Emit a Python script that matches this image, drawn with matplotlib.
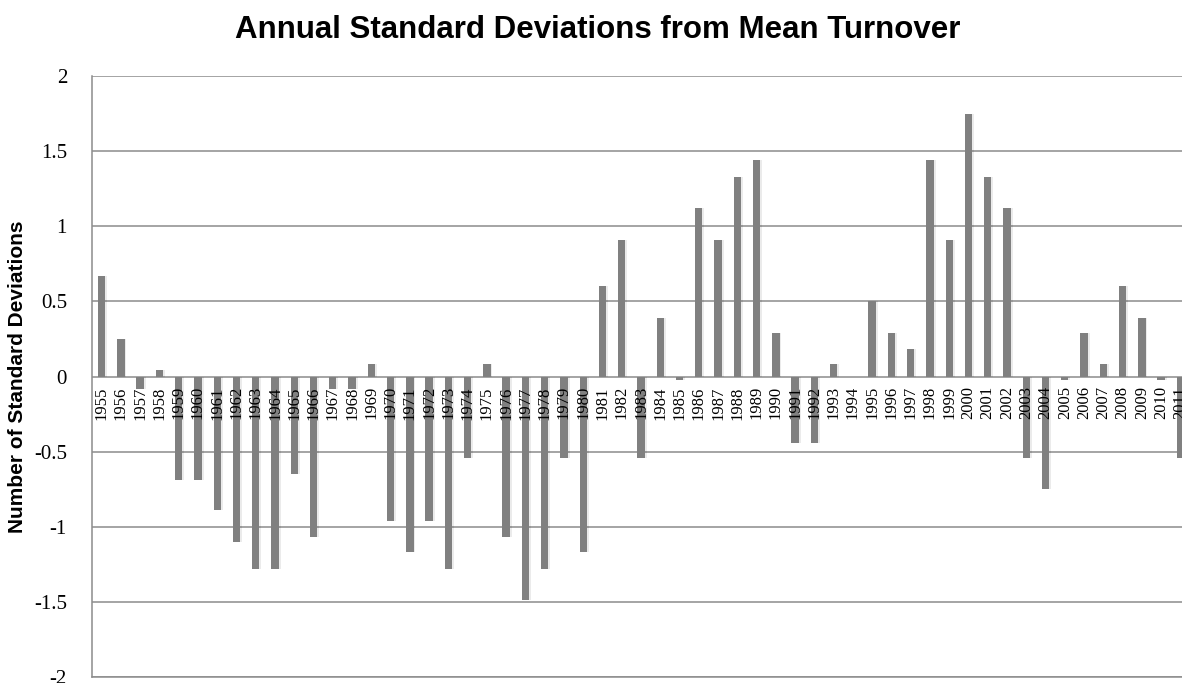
import matplotlib
matplotlib.use("Agg")
import matplotlib.pyplot as plt
import numpy as np

years = [str(y) for y in range(1955, 2012)]
values = [0.67, 0.25, -0.08, 0.04, -0.69, -0.69, -0.89, -1.10, -1.28, -1.28,
          -0.65, -1.07, -0.08, -0.08, 0.08, -0.96, -1.17, -0.96, -1.28, -0.54,
          0.08, -1.07, -1.49, -1.28, -0.54, -1.17, 0.60, 0.91, -0.54, 0.39,
          -0.02, 1.12, 0.91, 1.33, 1.44, 0.29, -0.44, -0.44, 0.08, 0.0,
          0.50, 0.29, 0.18, 1.44, 0.91, 1.75, 1.33, 1.12, -0.54, -0.75,
          -0.02, 0.29, 0.08, 0.60, 0.39, -0.02, -0.54]
yticks = [-2, -1.5, -1, -0.5, 0, 0.5, 1, 1.5, 2]
ytick_labels = ["-2", "-1.5", "-1", "-0.5", "0", "0.5", "1", "1.5", "2"]

fig = plt.figure(figsize=(11.82, 6.83), dpi=100)
ax = fig.add_axes([92 / 1182, 1 - 677 / 683, 1098 / 1182, 601 / 683])

x = np.arange(len(years))
# faint drop shadow behind the bars
ax.bar(x + 0.08, values, width=0.42, color="#000000", alpha=0.08, zorder=2)
ax.bar(x, values, width=0.38, color="#808080", zorder=3)

ax.set_xlim(-0.5, len(years) - 0.5)
ax.set_ylim(-2, 2)
ax.set_yticks(yticks)
ax.set_yticklabels(ytick_labels, family="Liberation Serif", fontsize=15)
ax.tick_params(axis="y", length=0, pad=18)
ax.set_xticks([])
ax.yaxis.grid(True, color="#8c8c8c", linewidth=1.1, zorder=1)
ax.set_axisbelow(True)

for s in ["top", "right"]:
    ax.spines[s].set_visible(False)
ax.spines["left"].set_color("#8c8c8c")
ax.spines["left"].set_linewidth(1.1)
ax.spines["bottom"].set_color("#8c8c8c")
ax.spines["bottom"].set_linewidth(1.1)

for i, yr in enumerate(years):
    ax.annotate(yr, xy=(i, 0), xytext=(0, -7), textcoords="offset points",
                rotation=90, ha="center", va="top", fontsize=12,
                family="Liberation Serif", zorder=5)

fig.text(18 / 1182, 1 - 377 / 683, "Number of Standard Deviations",
         rotation=90, ha="center", va="center", family="Liberation Sans",
         fontsize=15, fontweight="bold")
fig.text(598 / 1182, 1 - 30 / 683, "Annual Standard Deviations from Mean Turnover",
         ha="center", va="center", family="Liberation Sans", fontsize=22.5,
         fontweight="bold")

fig.savefig("out.png", dpi=100)
